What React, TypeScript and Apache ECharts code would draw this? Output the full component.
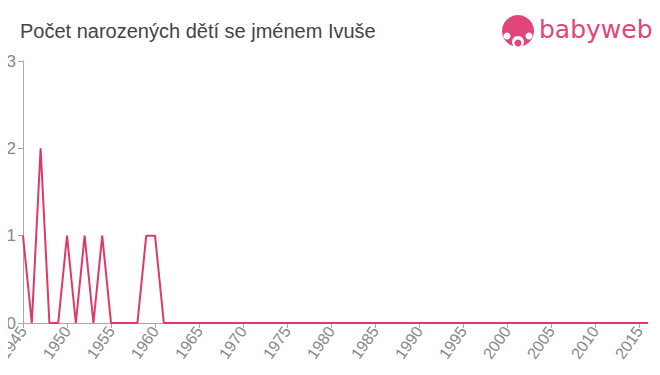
import React, { useEffect, useRef } from "react";
import * as echarts from "echarts";

const years: number[] = [];
for (let y = 1945; y <= 2016; y++) years.push(y);
const earlyCounts = [1, 0, 2, 0, 0, 1, 0, 1, 0, 1, 0, 0, 0, 0, 1, 1, 0];
const counts = years.map((y, i) => (i < earlyCounts.length ? earlyCounts[i] : 0));
const yTicks = [0, 1, 2, 3];

export default function App() {
  const ref = useRef<HTMLDivElement>(null);
  useEffect(() => {
    const chart = echarts.init(ref.current!, null, { renderer: "svg" });
    const pink = "#e0457b";
    chart.setOption({
      animation: false,
      title: {
        text: "Počet narozených dětí se jménem Ivuše",
        left: 15,
        top: 16,
        textStyle: { fontFamily: "Liberation Sans, Arial", fontSize: 20, fontWeight: "normal", color: "#444" },
      },
      grid: { left: 23, right: 12, top: 61, bottom: 52, outerBoundsMode: "none", containLabel: false },
      xAxis: {
        type: "value",
        min: 1945,
        max: 2016,
        interval: 5,
        axisLine: { lineStyle: { color: "#aaa", width: 1 } },
        axisTick: { show: true, length: 5, lineStyle: { color: "#aaa" } },
        splitLine: { show: false },
        axisLabel: {
          rotate: 55,
          color: "#888",
          fontSize: 16,
          fontFamily: "Liberation Sans, Arial",
          showMinLabel: true,
          showMaxLabel: false,
          hideOverlap: false,
          margin: 5,
          formatter: (v: number) => String(v),
        },
      },
      yAxis: {
        type: "value",
        min: 0,
        max: yTicks[yTicks.length - 1],
        interval: 1,
        axisLine: { show: true, lineStyle: { color: "#aaa", width: 1 } },
        axisTick: { show: true, length: 5, lineStyle: { color: "#aaa" } },
        splitLine: { show: false },
        axisLabel: { color: "#888", fontSize: 17, fontFamily: "Liberation Sans, Arial", margin: 7 },
      },
      series: [
        {
          type: "line",
          data: years.map((y, i) => [y, counts[i]]),
          showSymbol: false,
          lineStyle: { color: "#e0386b", width: 2 },
          itemStyle: { color: "#e0386b" },
        },
      ],
      graphic: [
        { type: "circle", shape: { cx: 518, cy: 31, r: 16 }, style: { fill: pink } },
        { type: "circle", shape: { cx: 518, cy: 42, r: 6 }, style: { fill: "#fff" } },
        { type: "circle", shape: { cx: 507, cy: 36, r: 3.5 }, style: { fill: "#fff" } },
        { type: "circle", shape: { cx: 529, cy: 36, r: 3.5 }, style: { fill: "#fff" } },
        { type: "circle", shape: { cx: 518, cy: 43, r: 3.5 }, style: { fill: pink } },
        {
          type: "text",
          left: 539,
          top: 17,
          style: { text: "babyweb", fill: pink, fontSize: 25, fontFamily: "DejaVu Sans" },
        },
      ],
    });
    return () => chart.dispose();
  }, []);
  return <div ref={ref} style={{ width: 660, height: 375, margin: -8 }} />;
}
